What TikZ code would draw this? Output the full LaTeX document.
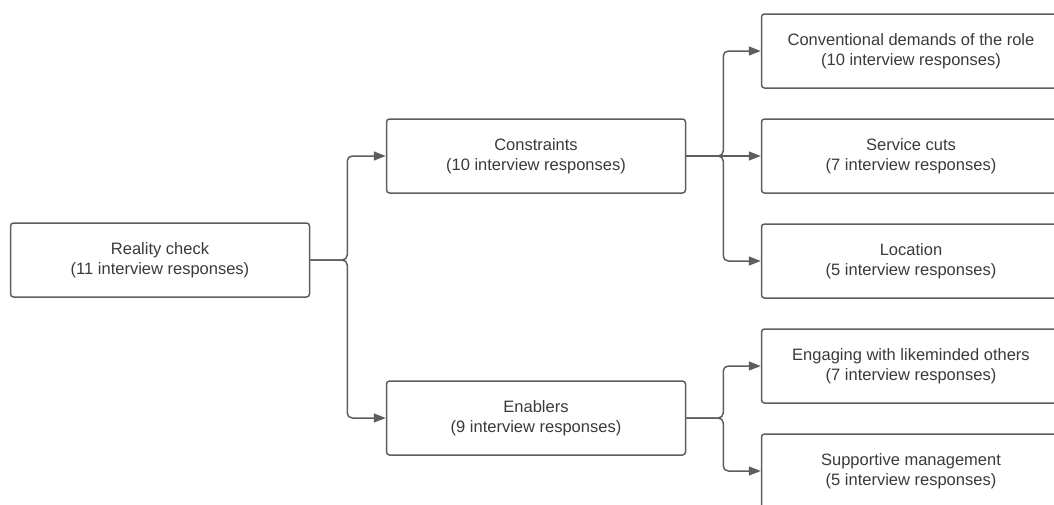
\documentclass[tikz,border=0pt]{standalone}
\usepackage{fontspec}
\setmainfont{Liberation Sans}
\usetikzlibrary{arrows.meta}
\definecolor{linegray}{HTML}{5E5E5E}
\definecolor{textgray}{HTML}{3A3A3A}

\begin{document}
\begin{tikzpicture}[x=1pt,y=-1pt,
			theme box/.style={draw=linegray,line width=1.5pt,rounded corners=3pt,minimum width=299pt,minimum height=74pt,align=center,text=textgray,font=\fontsize{16.5}{20}\selectfont},
			link/.style={draw=linegray,line width=1.5pt,rounded corners=5pt,-{Triangle[length=12pt,width=9pt]}}
			]
			
			\def \gap {37};
			
			\useasboundingbox (0,0) rectangle (1054,504);
			
			% first level
			\node[theme box] at (160,260) (rc) {Reality check\\(11 interview responses)};
			\node[theme box] at (536,156) (con) {Constraints\\(10 interview responses)};
			\node[theme box] at (536,418) (en) {Enablers\\(9 interview responses)};
			
			% second level
			\node[theme box] at (911,51) (cdr) {Conventional demands of the role\\(10 interview responses)};
			\node[theme box] at (911,156) (sc) {Service cuts\\(7 interview responses)};
			\node[theme box] at (911,261) (loc) {Location\\(5 interview responses)};
			\node[theme box] at (911,366) (eng) {Engaging with likeminded others\\(7 interview responses)};
			\node[theme box] at (911,471) (sup) {Supportive management\\(5 interview responses)};
			
			\draw[link] (rc.east) -- ++(\gap,0) |- (con.west);
			\draw[link] (rc.east) -- ++(\gap,0) |- (en.west);
			
			\draw[link] (con.east) -- ++(\gap,0) |- (cdr.west);
			\draw[link] (con.east) -- (sc.west);
			\draw[link] (con.east) -- ++(\gap,0) |- (loc.west);
			
			\draw[link] (en.east) -- ++(\gap,0) |- (eng.west);
			\draw[link] (en.east) -- ++(\gap,0) |- (sup.west);
			\end{tikzpicture}
\end{document}
